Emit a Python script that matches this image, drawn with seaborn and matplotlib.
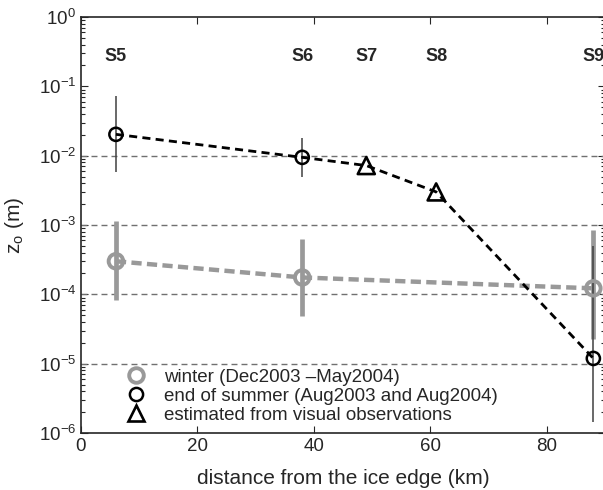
import matplotlib
matplotlib.use("Agg")
import matplotlib.pyplot as plt
import seaborn as sns
import numpy as np
import pandas as pd
from matplotlib.lines import Line2D

# ---- data ----
stations = ["S5", "S6", "S7", "S8", "S9"]
station_km = [6, 38, 49, 61, 88]

winter_km = [6, 38, 88]
winter_z0 = [3.0e-4, 1.75e-4, 1.22e-4]
winter_lo = [8.3e-5, 4.8e-5, 2.3e-5]
winter_hi = [1.15e-3, 6.2e-4, 8.5e-4]

summer_km = [6, 38, 49, 61, 88]
summer_z0 = [2.03e-2, 9.45e-3, 7.2e-3, 3.0e-3, 1.19e-5]
summer_kind = ["obs", "obs", "visual", "visual", "obs"]
summer_err_km = [6, 38, 88]
summer_lo = [5.74e-3, 4.96e-3, 1.45e-6]
summer_hi = [7.3e-2, 1.78e-2, 4.9e-4]

grid_levels = [1e-2, 1e-3, 1e-4, 1e-5]
legend_labels = ["winter (Dec2003 \u2013May2004)",
                 "end of summer (Aug2003 and Aug2004)",
                 "estimated from visual observations"]

# ---- style ----
sns.set_style("ticks")
plt.rcParams["font.family"] = ["Liberation Sans", "DejaVu Sans"]
plt.rcParams["mathtext.fontset"] = "custom"
plt.rcParams["mathtext.rm"] = "Liberation Sans"
plt.rcParams["mathtext.it"] = "Liberation Sans:italic"
plt.rcParams["mathtext.bf"] = "Liberation Sans:bold"

fig = plt.figure(figsize=(6.03, 4.90), dpi=100)
ax = fig.add_axes([81 / 603, 1 - 433 / 490, 524 / 603, 416 / 490])

GREY = "#999999"

for lv in grid_levels:
    ax.axhline(lv, color="#707070", lw=1.0, ls=(0, (4.3, 2.9)), zorder=1)

# error bars
ax.vlines(winter_km, winter_lo, winter_hi, color=GREY, lw=3.4, zorder=2)
ax.vlines(summer_err_km, summer_lo, summer_hi, color="#404040", lw=1.1, zorder=3)

df_w = pd.DataFrame({"km": winter_km, "z0": winter_z0})
df_s = pd.DataFrame({"km": summer_km, "z0": summer_z0, "kind": summer_kind})

sns.lineplot(data=df_w, x="km", y="z0", ax=ax, color=GREY, lw=3.2,
             estimator=None, sort=False, zorder=4)
ax.lines[-1].set_dashes([2.3, 1.2])
sns.lineplot(data=df_s, x="km", y="z0", ax=ax, color="black", lw=2,
             estimator=None, sort=False, zorder=5)
ax.lines[-1].set_dashes([2.9, 1.9])

sns.scatterplot(data=df_w, x="km", y="z0", ax=ax, marker="o", s=110,
                facecolors="none", edgecolor=GREY, linewidth=2.8, zorder=6)
obs = df_s[df_s["kind"] == "obs"]
vis = df_s[df_s["kind"] == "visual"]
sns.scatterplot(data=obs, x="km", y="z0", ax=ax, marker="o", s=90,
                facecolors="none", edgecolor="black", linewidth=1.8, zorder=7)
sns.scatterplot(data=vis, x="km", y="z0", ax=ax, marker="^", s=150,
                facecolors="none", edgecolor="black", linewidth=1.9, zorder=7)

for name, km in zip(stations, station_km):
    ax.text(km, 0.27, name, ha="center", va="center", fontsize=13,
            fontweight="bold", zorder=8)

ax.set_yscale("log")
ax.set_ylim(1e-6, 1)
ax.set_xlim(0, 90)
ax.set_xticks([0, 20, 40, 60, 80])
ax.set_yticks([1e-6, 1e-5, 1e-4, 1e-3, 1e-2, 1e-1, 1])
ax.tick_params(which="both", direction="in", top=True, right=True,
               labelsize=13.5, width=0.8)
ax.tick_params(which="major", length=5)
ax.tick_params(which="minor", length=3)
ax.xaxis.set_minor_locator(matplotlib.ticker.NullLocator())
for sp in ax.spines.values():
    sp.set_linewidth(1.2)

ax.set_xlabel("distance from the ice edge (km)", fontsize=15, labelpad=10)
ax.set_ylabel(r"z$_\mathrm{o}$ (m)", fontsize=15)
ax.yaxis.set_label_coords(-0.105, 0.5)

handles = [
    Line2D([], [], ls="none", marker="o", ms=10.5, mfc="none", mec=GREY, mew=2.8),
    Line2D([], [], ls="none", marker="o", ms=9.5, mfc="none", mec="black", mew=1.8),
    Line2D([], [], ls="none", marker="^", ms=12, mfc="none", mec="black", mew=1.9),
]
ax.legend(handles, legend_labels, loc="lower left",
          bbox_to_anchor=(0.065, 0.0), frameon=False, fontsize=13.5,
          handlelength=1.2, handletextpad=0.9, labelspacing=0.1,
          borderpad=0.0)

fig.savefig("out.png", dpi=100)
